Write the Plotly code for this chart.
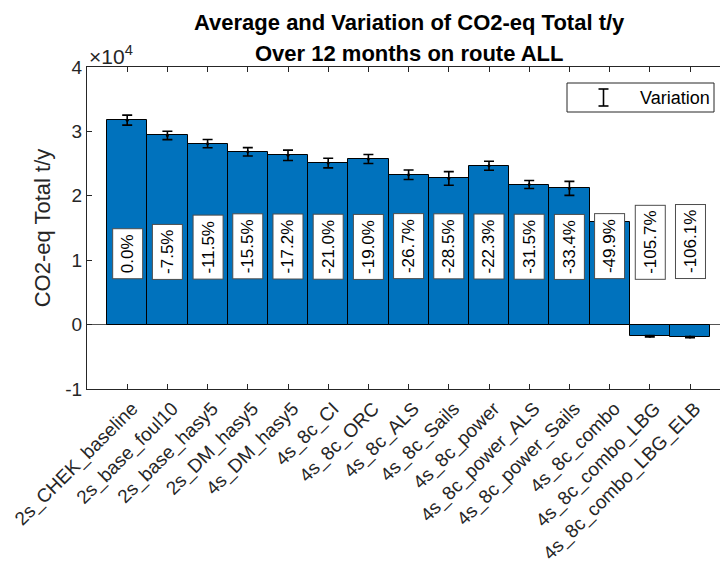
import plotly.graph_objects as go

# Scenario names along the x axis
scenarios = [
    "2s_CHEK_baseline", "2s_base_foul10", "2s_base_hasy5", "2s_DM_hasy5",
    "4s_DM_hasy5", "4s_8c_CI", "4s_8c_ORC", "4s_8c_ALS", "4s_8c_Sails",
    "4s_8c_power", "4s_8c_power_ALS", "4s_8c_power_Sails", "4s_8c_combo",
    "4s_8c_combo_LBG", "4s_8c_combo_LBG_ELB",
]

# Mean CO2-eq total (t/y) over 12 months
mean_co2 = [31750, 29370, 28100, 26830, 26290, 25080, 25720, 23270, 22700,
            24670, 21750, 21150, 15910, -1810, -1940]

# Half-range of the monthly variation (t/y)
variation = [780, 650, 650, 650, 800, 750, 700, 730, 1060, 700, 620, 1090,
             300, 100, 100]

# Change relative to the baseline scenario
change_labels = ["0.0%", "-7.5%", "-11.5%", "-15.5%", "-17.2%", "-21.0%",
                 "-19.0%", "-26.7%", "-28.5%", "-22.3%", "-31.5%", "-33.4%",
                 "-49.9%", "-105.7%", "-106.1%"]

# Y ticks (shown in units of 1e4)
y_ticks = [-10000, 0, 10000, 20000, 30000, 40000]
y_tick_text = ["-1", "0", "1", "2", "3", "4"]

title_lines = ["Average and Variation of CO2-eq Total t/y",
               "Over 12 months on route ALL"]

W, H = 720, 563
L, R, T, B = 87, 0, 67, 174
FONT = "Liberation Sans, Arial, Helvetica, sans-serif"
AX = "#262626"

xpos = list(range(1, len(scenarios) + 1))


def px_x(p):
    return (p - L) / (W - L - R)


def px_y(p):
    return 1 - (p - T) / (H - T - B)


fig = go.Figure()
fig.add_trace(go.Bar(
    x=xpos, y=mean_co2, width=1,
    marker=dict(color="#0072BD", line=dict(color="black", width=1)),
    showlegend=False,
))
fig.add_trace(go.Scatter(
    x=xpos, y=mean_co2, mode="markers",
    marker=dict(color="black", size=3),
    error_y=dict(type="data", array=variation, visible=True,
                 color="black", thickness=1.6, width=5),
    showlegend=False,
))

# Percentage change boxes
for xi, lab in zip(xpos, change_labels):
    fig.add_annotation(
        x=xi, y=7000, xref="x", yref="y", text=lab, showarrow=False,
        textangle=-90, yanchor="bottom", xanchor="center",
        font=dict(family=FONT, size=17, color="black"),
        bgcolor="white", bordercolor="#4d4d4d", borderwidth=1, borderpad=5,
    )

# Two-line bold title
for line, ypx in zip(title_lines, (23, 53)):
    fig.add_annotation(
        xref="paper", yref="paper", x=px_x(409), y=px_y(ypx),
        xanchor="center", yanchor="middle", text=f"<b>{line}</b>",
        showarrow=False, font=dict(family=FONT, size=22, color="black"),
    )

# Exponent note above the y axis
fig.add_annotation(
    xref="paper", yref="paper", x=px_x(87), y=px_y(55), xanchor="left",
    yanchor="middle", text="\u00d710<sup>4</sup>", showarrow=False,
    font=dict(family=FONT, size=21, color=AX),
)

# Legend box for the variation whiskers
leg = dict(xref="paper", yref="paper")
fig.add_shape(type="rect", x0=px_x(567), x1=px_x(714), y0=px_y(112), y1=px_y(83),
              line=dict(color=AX, width=1), fillcolor="white", **leg)
fig.add_shape(type="line", x0=px_x(603.5), x1=px_x(603.5), y0=px_y(106), y1=px_y(89),
              line=dict(color="black", width=1.6), **leg)
for yy in (89, 106):
    fig.add_shape(type="line", x0=px_x(598.5), x1=px_x(608.5), y0=px_y(yy), y1=px_y(yy),
                  line=dict(color="black", width=1.6), **leg)
fig.add_annotation(
    xref="paper", yref="paper", x=px_x(638), y=px_y(97.5), xanchor="left",
    yanchor="middle", text="Variation", showarrow=False,
    font=dict(family=FONT, size=18, color="black"),
)

fig.update_layout(
    width=W, height=H,
    margin=dict(l=L, r=R, t=T, b=B, pad=0),
    paper_bgcolor="white", plot_bgcolor="white",
    bargap=0,
    font=dict(family=FONT, color=AX),
)
fig.update_xaxes(
    range=[0, (W - L - R) / 40.2], tickmode="array", tickvals=xpos, ticktext=scenarios,
    tickangle=-45, ticks="inside", ticklen=5, tickcolor=AX,
    showline=True, linecolor=AX, linewidth=1, mirror="ticks",
    showgrid=False, zeroline=False, ticklabelshift=5,
    tickfont=dict(family=FONT, size=19, color=AX),
)
fig.update_yaxes(
    range=[-10000, 40000], tickmode="array", tickvals=y_ticks, ticktext=y_tick_text,
    ticks="inside", ticklen=5, tickcolor=AX,
    showline=True, linecolor=AX, linewidth=1,
    showgrid=False, zeroline=True, zerolinecolor="#555555", zerolinewidth=1,
    tickfont=dict(family=FONT, size=19, color=AX),
    title=dict(text="CO2-eq Total t/y", font=dict(family=FONT, size=22, color=AX),
               standoff=8),
)

fig.write_html("out.html")
